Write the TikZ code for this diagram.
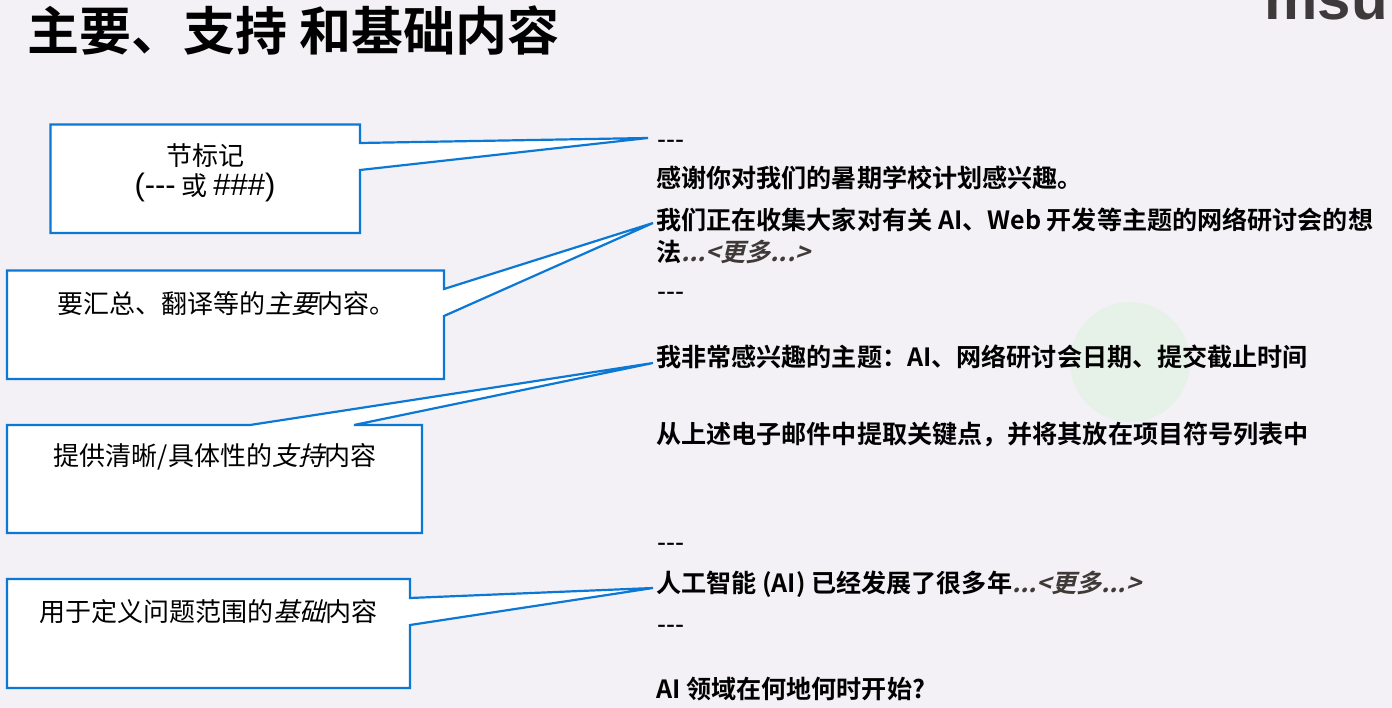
\documentclass[tikz,border=0pt]{standalone}
\usepackage{fontspec}
\setmainfont{Noto Sans CJK SC}[AutoFakeSlant=0.25,BoldFont={Noto Sans CJK SC Bold},BoldItalicFont={Noto Sans CJK SC Bold},BoldItalicFeatures={FakeSlant=0.25}]
\newfontfamily\logofont{Liberation Sans}[BoldFont={Liberation Sans Bold}]
\definecolor{pagebg}{HTML}{F3F1F6}
\definecolor{callblue}{HTML}{0A78D4}
\definecolor{moregray}{HTML}{3F3A38}
\definecolor{softgreen}{HTML}{E6F1E7}
\definecolor{logogray}{HTML}{3E3A3C}
\tikzset{
  x=1pt,y=-1pt,
  callout/.style={draw=callblue,line width=2.2pt,fill=white,line join=miter,miter limit=4},
  boxtext/.style={font=\fontsize{26}{30}\selectfont,text=black,align=center,anchor=center,inner sep=0pt},
  bodytext/.style={font=\bfseries\fontsize{25.1}{32}\selectfont,text=black,anchor=west,inner sep=0pt},
  dashtext/.style={font=\logofont\fontsize{27}{32}\selectfont,text=black,anchor=west,inner sep=0pt},
}
\newcommand{\moretext}[1]{{\color{moregray}\itshape #1}}
\newcommand{\latinbig}[1]{{\logofont\fontsize{31}{30}\selectfont #1}}
\begin{document}
\begin{tikzpicture}
\useasboundingbox (0,0) rectangle (1392,708);
\clip (0,0) rectangle (1392,708);
\fill[pagebg] (0,0) rectangle (1392,708);
\fill[softgreen] (1130,362) circle (60);
\node[font=\bfseries\fontsize{52}{60}\selectfont,anchor=west,inner sep=0pt] (title) at (27,31) {主要、支持 和基础内容};
\node[font=\logofont\bfseries\fontsize{60}{60}\selectfont,text=logogray,anchor=base east,inner sep=0pt] (logo) at (1388,20) {msu};

\coordinate (tipa) at (648,138);
\coordinate (tipb) at (653,223);
\coordinate (tipc) at (653,363);
\coordinate (tipd) at (653,588);
\draw[callout] (50.5,124.5) -- (360,124.5) -- (360,143) -- (tipa) -- (360,170) -- (360,233) -- (50.5,233) -- cycle;
\draw[callout] (7,270.5) -- (444,270.5) -- (444,289) -- (tipb) -- (444,316) -- (444,379) -- (7,379) -- cycle;
\draw[callout] (7,425) -- (250,425) -- (tipc) -- (354,425) -- (422,425) -- (422,533) -- (7,533) -- cycle;
\draw[callout] (7,579) -- (410,579) -- (410,598) -- (tipd) -- (410,625) -- (410,688) -- (7,688) -- cycle;

\node[boxtext] (boxa) at (205,173) {节标记\\\latinbig{(-{}-{}-} 或 \latinbig{\#\#\#)}};
\node[boxtext] (boxb) at (226,304) {要汇总、翻译等的\textit{主要}内容。};
\node[boxtext] (boxc) at (215,457) {提供清晰/具体性的\textit{支持}内容};
\node[boxtext] (boxd) at (208,612) {用于定义问题范围的\textit{基础}内容};

\node[dashtext] (da) at (657,144) {-{}-{}-};
\node[bodytext] (ta) at (656,178) {感谢你对我们的暑期学校计划感兴趣。};
\node[bodytext] (tb) at (656,220) {我们正在收集大家对有关 AI、Web 开发等主题的网络研讨会的想};
\node[bodytext] (tc) at (656,252) {法\moretext{...<更多...>}};
\node[dashtext] (db) at (657,296) {-{}-{}-};
\node[bodytext] (td) at (656,357) {我非常感兴趣的主题：AI、网络研讨会日期、提交截止时间};
\node[bodytext] (te) at (656,434) {从上述电子邮件中提取关键点，并将其放在项目符号列表中};
\node[dashtext] (dc) at (657,547) {-{}-{}-};
\node[bodytext] (tf) at (656,584) {人工智能 (AI) 已经发展了很多年\moretext{...<更多...>}};
\node[dashtext] (dd) at (657,629) {-{}-{}-};
\node[bodytext] (tg) at (656,689) {AI 领域在何地何时开始?};
\end{tikzpicture}
\end{document}
